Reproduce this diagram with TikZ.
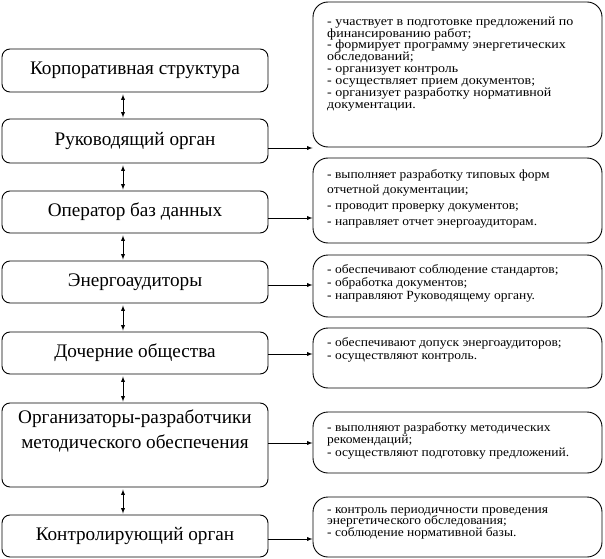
\documentclass[tikz,border=0pt]{standalone}
\usepackage{fontspec}
\setmainfont{Liberation Serif}
\newfontfamily\noteFont[FakeStretch=1.08]{Liberation Serif}
\newfontfamily\wideNoteFont[FakeStretch=1.12]{Liberation Serif}
\usepackage{tikz}
\usetikzlibrary{arrows,calc}
\tikzstyle{unit}=[draw, line width=0.9pt, rounded corners=8pt, minimum width=266pt, inner sep=0pt, align=center, font=\fontsize{19.2}{25}\selectfont]
\tikzstyle{note}=[draw, line width=0.9pt, rounded corners=15pt, minimum width=289pt, inner sep=0pt]
\tikzstyle{notetext}=[anchor=north west, inner sep=0pt, align=left]
\tikzstyle{link}=[line width=0.9pt]
\newcommand{\noteBox}[7]{
	\node[note, minimum height=#3pt] (#1) at (457.5,#2) {};
	\node[notetext, font=#7\fontsize{12.5}{#5}\selectfont] (#1t) at (327,#4-9) {\rule{0pt}{9pt}#6};
}

\begin{document}
\begin{tikzpicture}[x=1pt, y=-1pt, >=latex]
	\fill[white] (0,0) rectangle (605,559);
	\useasboundingbox (0,0) rectangle (605,559);
	\node[unit, minimum height=43pt] (b1) at (135,70.5) {Корпоративная структура};
	\node[unit, minimum height=44pt] (b2) at (135,141) {Руководящий орган};
	\node[unit, minimum height=42pt] (b3) at (135,212) {Оператор баз данных};
	\node[unit, minimum height=42pt] (b4) at (135,282) {Энергоаудиторы};
	\node[unit, minimum height=42pt] (b5) at (135,353) {Дочерние общества};
	\node[unit, minimum height=84pt] (b6) at (135,445) {Организаторы-разработчики\\методического обеспечения\\\strut};
	\node[unit, minimum height=42pt] (b7) at (135,536) {Контролирующий орган};
	\noteBox{n1}{74.5}{145}{25}{11.9}{- участвует в подготовке предложений по\\финансированию работ;\\- формирует программу энергетических\\обследований;\\- организует контроль\\- осуществляет прием документов;\\- организует разработку нормативной\\документации.}{\wideNoteFont}
	\noteBox{n2}{200.5}{85}{178}{15.6}{- выполняет разработку типовых форм\\отчетной документации;\\- проводит проверку документов;\\- направляет отчет энергоаудиторам.}{\noteFont}
	\noteBox{n3}{286}{62}{273}{13}{- обеспечивают соблюдение стандартов;\\- обработка документов;\\- направляют Руководящему органу.}{\noteFont}
	\noteBox{n4}{358}{60}{346}{13.5}{- обеспечивают допуск энергоаудиторов;\\- осуществляют контроль.}{\noteFont}
	\noteBox{n5}{442.5}{61}{431}{12.5}{- выполняют разработку методических\\рекомендаций;\\- осуществляют подготовку предложений.}{\noteFont}
	\noteBox{n6}{527}{60}{513}{11.7}{- контроль периодичности проведения\\энергетического обследования;\\- соблюдение нормативной базы.}{\noteFont}
	\foreach \a/\b in {b1/b2,b2/b3,b3/b4,b4/b5,b5/b6,b6/b7}
		\draw[link, latex-latex, shorten <=2pt, shorten >=1pt] ([xshift=-12pt]\a.south) -- ([xshift=-12pt]\b.north);
	\foreach \a/\b/\s in {b2/n1/-7,b3/n2/-6,b4/n3/-3,b5/n4/-1,b6/n5/2,b7/n6/-3}
		\draw[link, ->] ([yshift=\s pt]\a.east) -- ([yshift=\s pt]\a.east -| \b.west);
\end{tikzpicture}
\end{document}
